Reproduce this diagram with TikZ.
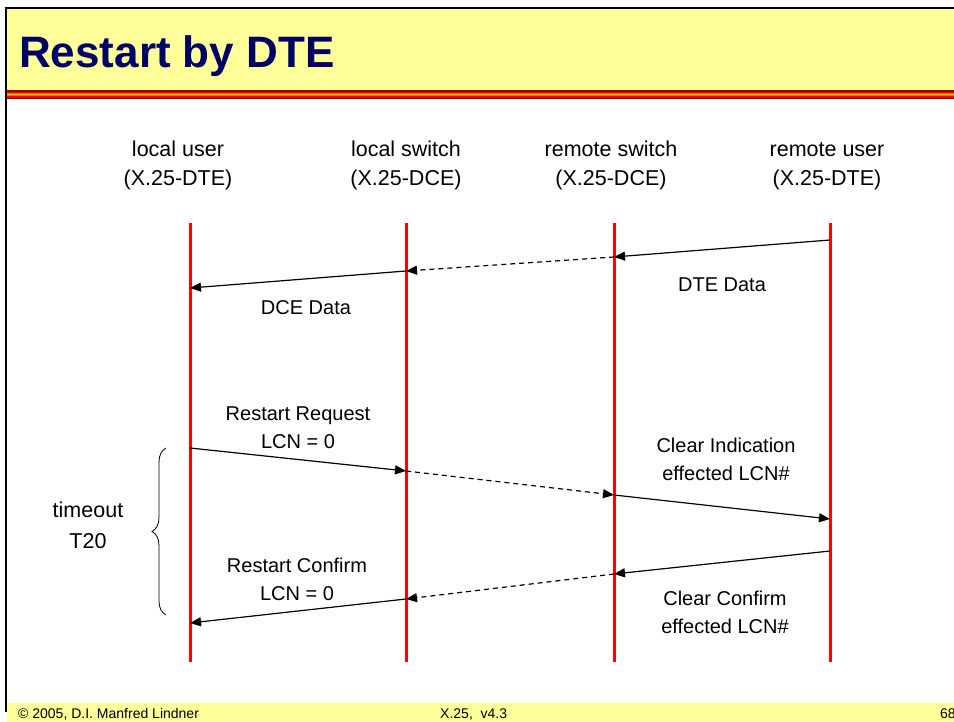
\documentclass[tikz,border=0pt]{standalone}
\usepackage{fontspec}
\setmainfont{Liberation Sans}
\usepackage{xcolor}
\usetikzlibrary{arrows.meta, positioning, decorations.pathreplacing, calc}
\definecolor{SlideYellow}{HTML}{FFFF99}
\definecolor{TitleNavy}{HTML}{000066}
\definecolor{LifeRed}{HTML}{FF0000}
\definecolor{StripeDark}{HTML}{990000}
\definecolor{StripeOrange}{HTML}{FF6600}
\definecolor{StripeGold}{HTML}{FFCC00}

\begin{document}
\begin{tikzpicture}[
    x=1pt, y=-1pt,
    lifeline/.style={draw=LifeRed, line width=3pt},
    msg/.style={-{Triangle[length=11pt, width=9pt]}, line width=1.2pt, draw=black},
    relay/.style={msg, dash pattern=on 5pt off 4pt},
    headbox/.style={font=\fontsize{21.5}{29}\selectfont, align=center, inner sep=0pt, anchor=base},
    msglabel/.style={font=\fontsize{20}{28}\selectfont, align=center, inner sep=0pt, anchor=base},
    footnote/.style={font=\fontsize{14}{16}\selectfont, inner sep=0pt, anchor=base west}
]
\useasboundingbox (0,0) rectangle (954,722);
\clip (0,0) rectangle (954,722);

% Slide frame, title band and footer band
\fill[SlideYellow] (6,9) rectangle (954,91);
\foreach \yy/\cc in {91/StripeDark, 92.3/LifeRed, 93.5/StripeOrange, 94.7/StripeGold, 95.9/StripeOrange, 97.1/LifeRed, 98.3/StripeDark}
    \draw[\cc, line width=1.3pt] (6,\yy) -- (954,\yy);
\fill[SlideYellow] (7,703) rectangle (954,722);
\draw[black, line width=2pt] (6,712) -- (6,8) -- (954,8);

\node[anchor=base west, inner sep=0pt, font=\fontsize{44}{50}\selectfont\bfseries, text=TitleNavy] (title) at (19,68) {Restart by DTE};

% Party headings (base = last line)
\node[headbox] (LU) at (178,186) {local user\\(X.25-DTE)};
\node[headbox] (LS) at (406,186) {local switch\\(X.25-DCE)};
\node[headbox] (RS) at (611,186) {remote switch\\(X.25-DCE)};
\node[headbox] (RU) at (827,186) {remote user\\(X.25-DTE)};

% Lifelines
\foreach \nm/\xx in {LU/190, LS/406, RS/614, RU/830} {
    \coordinate (\nm top) at (\xx,223);
    \coordinate (\nm bot) at (\xx,662);
    \draw[lifeline] (\nm top) -- (\nm bot);
}

% Message points on the lifelines
\coordinate (RU1) at (830,240);
\coordinate (RS1) at (614,257);
\coordinate (LS1) at (406,271);
\coordinate (LU1) at (190,288);
\coordinate (LU2) at (190,448);
\coordinate (LS2) at (406,471);
\coordinate (RS2) at (614,495);
\coordinate (RU2) at (830,519);
\coordinate (RU3) at (830,551);
\coordinate (RS3) at (614,574);
\coordinate (LS3) at (406,599);
\coordinate (LU3) at (190,623);

% Data flow
\draw[msg] (RU1) -- (RS1);
\draw[relay] (RS1) -- (LS1);
\draw[msg] (LS1) -- (LU1);

% Restart request / clear indication
\draw[msg] (LU2) -- (LS2);
\draw[relay] (LS2) -- (RS2);
\draw[msg] (RS2) -- (RU2);

% Confirmations
\draw[msg] (RU3) -- (RS3);
\draw[relay] (RS3) -- (LS3);
\draw[msg] (LS3) -- (LU3);

% Labels
\node[msglabel] (dte) at (722,292) {DTE Data};
\node[msglabel] (dce) at (306,315) {DCE Data};
\node[msglabel] (req) at (298,448) {Restart Request\\LCN = 0};
\node[msglabel] (ind) at (726,480) {Clear Indication\\effected LCN\#};
\node[msglabel] (conf) at (297,600) {Restart Confirm\\LCN = 0};
\node[msglabel] (clr) at (725,633) {Clear Confirm\\effected LCN\#};

% Timer
\coordinate (brbot) at (166,615);
\coordinate (brtop) at (166,448);
\draw[decorate, decoration={brace, amplitude=14pt}, line width=0.8pt] (brbot) -- (brtop);
\node[headbox, font=\fontsize{21.5}{31}\selectfont] (timer) at (88,548) {timeout\\T20};

% Footer
\node[footnote] (copy) at (18,718) {\textcopyright{} 2005, D.I. Manfred Lindner};
\node[footnote] (ver) at (440,718) {X.25,\ \ v4.3};
\node[footnote] (page) at (940,718) {68};

\end{tikzpicture}
\end{document}
